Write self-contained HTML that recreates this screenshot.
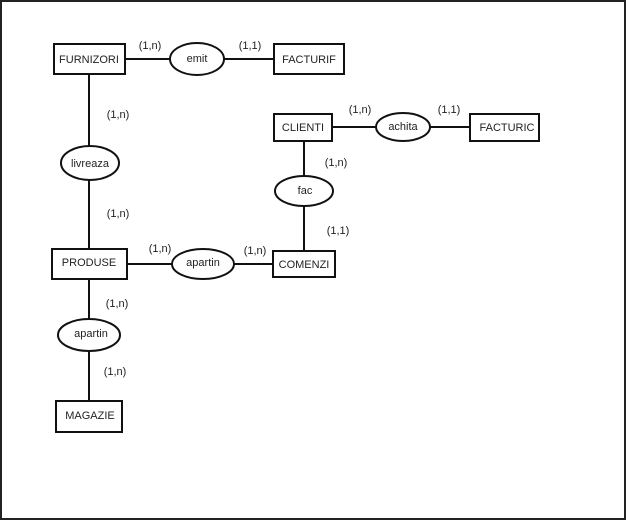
<!DOCTYPE html>
<html><head><meta charset="utf-8"><style>
html,body{margin:0;padding:0;background:#fff}
svg{display:block}
text{font-family:"Liberation Sans",Arial,sans-serif;font-size:11px;fill:#222}
</style></head><body>
<svg width="628" height="521" viewBox="0 0 628 521" xmlns="http://www.w3.org/2000/svg">
<rect x="1" y="1" width="624" height="518" fill="#fff" stroke="#222" stroke-width="2"/>
<g stroke="#111" stroke-width="2" fill="none">
<line x1="125" y1="59" x2="274" y2="59"/>
<line x1="89" y1="74" x2="89" y2="250"/>
<line x1="127" y1="264" x2="273" y2="264"/>
<line x1="89" y1="279" x2="89" y2="320"/>
<line x1="89" y1="351" x2="89" y2="401"/>
<line x1="332" y1="127" x2="470" y2="127"/>
<line x1="304" y1="141" x2="304" y2="251"/>
</g>
<g stroke="#111" stroke-width="2" fill="#fff">
<rect x="54" y="44" width="71" height="30"/>
<rect x="274" y="44" width="70" height="30"/>
<rect x="52" y="249" width="75" height="30"/>
<rect x="273" y="251" width="62" height="26"/>
<rect x="56" y="401" width="66" height="31"/>
<rect x="274" y="114" width="58" height="27"/>
<rect x="470" y="114" width="69" height="27"/>
<ellipse cx="197" cy="59" rx="27" ry="16"/>
<ellipse cx="90" cy="163" rx="29" ry="17"/>
<ellipse cx="203" cy="264" rx="31" ry="15"/>
<ellipse cx="89" cy="335" rx="31" ry="16"/>
<ellipse cx="403" cy="127" rx="27" ry="14"/>
<ellipse cx="304" cy="191" rx="29" ry="15"/>
</g>
<g text-anchor="middle">
<text x="89" y="63">FURNIZORI</text>
<text x="309" y="63">FACTURIF</text>
<text x="89" y="266">PRODUSE</text>
<text x="304" y="268">COMENZI</text>
<text x="90" y="419">MAGAZIE</text>
<text x="303" y="131">CLIENTI</text>
<text x="507" y="131">FACTURIC</text>
<text x="197" y="62">emit</text>
<text x="90" y="167">livreaza</text>
<text x="203" y="266">apartin</text>
<text x="91" y="337">apartin</text>
<text x="403" y="130">achita</text>
<text x="305" y="194">fac</text>
<text x="150" y="49">(1,n)</text>
<text x="250" y="49">(1,1)</text>
<text x="118" y="118">(1,n)</text>
<text x="118" y="217">(1,n)</text>
<text x="160" y="252">(1,n)</text>
<text x="255" y="254">(1,n)</text>
<text x="117" y="307">(1,n)</text>
<text x="115" y="375">(1,n)</text>
<text x="360" y="113">(1,n)</text>
<text x="449" y="113">(1,1)</text>
<text x="336" y="166">(1,n)</text>
<text x="338" y="234">(1,1)</text>
</g>
</svg>
</body></html>
